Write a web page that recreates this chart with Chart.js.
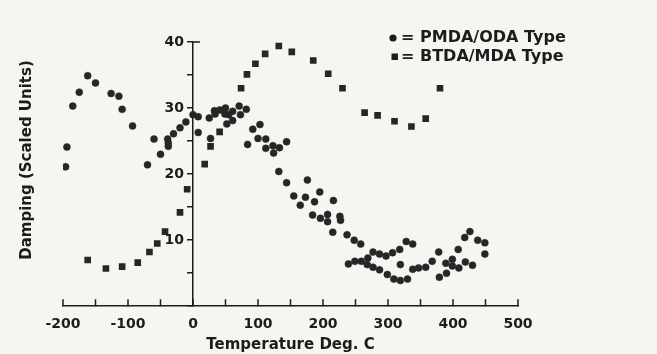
<!DOCTYPE html>
<html>
<head>
<meta charset="utf-8">
<script src="https://cdn.jsdelivr.net/npm/chart.js@4.4.0/dist/chart.umd.min.js"></script>
<style>
  body { margin: 0; background: #f5f5f2; }
  #wrap { width: 657px; height: 354px; }
</style>
</head>
<body>
<div id="wrap"><canvas id="dampChart"></canvas></div>
<script>
// PMDA/ODA (circles)
const pmdaTemp = [-196, -194, -185, -175, -162, -150, -126, -114, -109, -93, -70, -60, -50, -39, -38, -38, -30, -20, -11, 0,
  8, 8, 25, 27, 33, 34, 41, 47, 50, 49, 55, 61, 61, 52, 71, 73, 82, 84, 92, 103,
  100, 112, 112, 123, 124, 133, 144, 132, 144, 176, 155, 165, 173, 187, 195, 216, 184, 196, 207, 207,
  226, 227, 215, 237, 248, 258, 277, 287, 297, 307, 318, 328, 338, 239, 249, 259, 269, 268, 277, 287,
  299, 309, 319, 330, 319, 338, 347, 358, 368, 378, 379, 390, 389, 399, 399, 408, 409, 419, 418, 426,
  430, 438, 449, 449];
const pmdaDamp = [21.1, 24.1, 30.3, 32.4, 34.9, 33.8, 32.2, 31.8, 29.8, 27.3, 21.4, 25.3, 23.0, 25.3, 24.7, 24.2, 26.1, 27.0, 27.9, 29.0,
  28.7, 26.3, 28.5, 25.4, 29.6, 29.1, 29.7, 29.7, 30.0, 29.1, 29.0, 29.5, 28.1, 27.6, 30.3, 29.0, 29.8, 24.5, 26.8, 27.5,
  25.4, 25.3, 23.9, 24.3, 23.2, 24.0, 24.9, 20.4, 18.7, 19.1, 16.7, 15.3, 16.5, 15.8, 17.3, 16.0, 13.8, 13.3, 13.9, 12.8,
  13.6, 13.0, 11.2, 10.8, 10.0, 9.4, 8.2, 7.9, 7.6, 8.1, 8.6, 9.8, 9.4, 6.4, 6.8, 6.8, 7.3, 6.3, 5.9, 5.5,
  4.8, 4.1, 3.9, 4.1, 6.3, 5.6, 5.8, 5.9, 6.8, 8.2, 4.4, 5.0, 6.5, 7.1, 6.1, 8.6, 5.8, 6.7, 10.4, 11.3,
  6.2, 10.0, 9.6, 7.9];

// BTDA/MDA (squares)
const btdaTemp = [-162, -134, -109, -85, -67, -55, -43, -20, -9, 18, 27, 41, 74, 83, 96, 111, 132, 152, 185, 208,
  230, 264, 284, 310, 336, 358, 380];
const btdaDamp = [7.0, 5.7, 6.0, 6.6, 8.2, 9.5, 11.3, 14.2, 17.7, 21.5, 24.2, 26.4, 33.0, 35.1, 36.7, 38.2, 39.4, 38.5, 37.2, 35.2,
  33.0, 29.3, 28.9, 28.0, 27.2, 28.4, 33.0];

const legendLabels = ['PMDA/ODA Type', 'BTDA/MDA Type'];
const xTitle = 'Temperature Deg. C';
const yTitle = 'Damping (Scaled Units)';

const INK = '#1c1c1c';
const FONT = '"DejaVu Sans", sans-serif';

function toPoints(xs, ys) {
  return xs.map((x, i) => ({ x: x, y: ys[i] }));
}

// inward ticks on the x axis, y labels left of the axis at x=0, y title, legend
const decorations = {
  id: 'decorations',
  afterDraw(chart) {
    const ctx = chart.ctx;
    const xs = chart.scales.x;
    const ys = chart.scales.y;
    const bottom = chart.chartArea.bottom;
    const x0 = xs.getPixelForValue(0);
    ctx.save();
    ctx.strokeStyle = INK;
    ctx.lineWidth = 1.5;
    ctx.beginPath();
    xs.ticks.forEach(t => {
      const px = xs.getPixelForValue(t.value);
      ctx.moveTo(px, bottom);
      ctx.lineTo(px, bottom - 7);
    });
    const yTop = ys.getPixelForValue(40);
    ctx.moveTo(x0, yTop);
    ctx.lineTo(x0 + 7, yTop);
    ctx.stroke();

    // y tick labels
    ctx.fillStyle = INK;
    ctx.font = 'bold 14px ' + FONT;
    ctx.textAlign = 'right';
    ctx.textBaseline = 'middle';
    ys.ticks.forEach(t => {
      if (t.value % 10 === 0 && t.value !== 0) {
        ctx.fillText(String(t.value), x0 - 9, ys.getPixelForValue(t.value));
      }
    });

    // y axis title
    ctx.font = 'bold 15px ' + FONT;
    ctx.textAlign = 'center';
    ctx.translate(27, 160);
    ctx.rotate(-Math.PI / 2);
    ctx.fillText(yTitle, 0, 0);
    ctx.restore();

    // legend
    ctx.save();
    ctx.fillStyle = INK;
    ctx.beginPath();
    ctx.arc(393, 38, 3.6, 0, Math.PI * 2);
    ctx.fill();
    ctx.fillRect(391.5, 53.5, 6.5, 6.5);
    ctx.font = 'bold 16px ' + FONT;
    ctx.textBaseline = 'middle';
    ctx.textAlign = 'left';
    ctx.fillText('=', 401, 38);
    ctx.fillText('=', 401, 57);
    ctx.fillText(legendLabels[0], 420, 38);
    ctx.fillText(legendLabels[1], 420, 57);
    ctx.restore();
  }
};

const ctx = document.getElementById('dampChart').getContext('2d');
new Chart(ctx, {
  type: 'scatter',
  data: {
    datasets: [{
      label: legendLabels[0],
      data: toPoints(pmdaTemp, pmdaDamp),
      pointStyle: 'circle',
      pointRadius: 3.5,
      borderWidth: 0.5,
      backgroundColor: '#262626',
      borderColor: '#262626'
    }, {
      label: legendLabels[1],
      data: toPoints(btdaTemp, btdaDamp),
      pointStyle: 'rect',
      pointRadius: 4.7,
      borderWidth: 0,
      backgroundColor: '#262626',
      borderColor: '#262626'
    }]
  },
  options: {
    responsive: true,
    maintainAspectRatio: false,
    animation: false,
    layout: { padding: { left: 63, right: 139, top: 42, bottom: 0 } },
    plugins: {
      legend: { display: false },
      tooltip: { enabled: false }
    },
    scales: {
      x: {
        type: 'linear',
        min: -200,
        max: 500,
        grid: { display: false },
        border: { display: true, color: INK, width: 1.5 },
        ticks: {
          stepSize: 50,
          autoSkip: false,
          maxRotation: 0,
          padding: 1.5,
          color: INK,
          font: { family: FONT, size: 14, weight: 'bold' },
          callback: v => (v % 100 === 0 ? v : '')
        },
        title: {
          display: true,
          text: xTitle,
          color: INK,
          font: { family: FONT, size: 15, weight: 'bold' },
          padding: { top: 2, bottom: 0 }
        }
      },
      y: {
        type: 'linear',
        position: { x: 0 },
        min: 0,
        max: 40,
        grid: { display: true, drawOnChartArea: false, drawTicks: true, tickLength: 5, color: INK, lineWidth: 1.5 },
        border: { display: true, color: INK, width: 1.5 },
        ticks: {
          display: false,
          stepSize: 5
        }
      }
    }
  },
  plugins: [decorations]
});
</script>
</body>
</html>
